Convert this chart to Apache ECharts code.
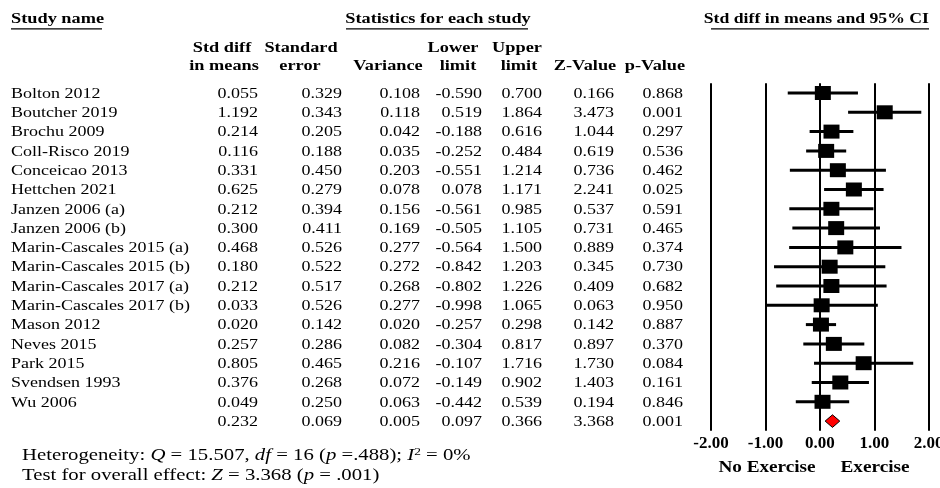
<!DOCTYPE html>
<html><head><meta charset="utf-8">
<script src="https://cdn.jsdelivr.net/npm/echarts@6/dist/echarts.min.js"></script>
<style>html,body{margin:0;padding:0;background:#fff}#c{width:940px;height:488px}</style>
</head><body><div id="c"></div>
<script>
// ---- data ----
const studies = ['Bolton 2012','Boutcher 2019','Brochu 2009','Coll-Risco 2019','Conceicao 2013','Hettchen 2021','Janzen 2006 (a)','Janzen 2006 (b)','Marin-Cascales 2015 (a)','Marin-Cascales 2015 (b)','Marin-Cascales 2017 (a)','Marin-Cascales 2017 (b)','Mason 2012','Neves 2015','Park 2015','Svendsen 1993','Wu 2006'];
const stdDiff  = [0.055,1.192,0.214,0.116,0.331,0.625,0.212,0.300,0.468,0.180,0.212,0.033,0.020,0.257,0.805,0.376,0.049];
const stdErr   = [0.329,0.343,0.205,0.188,0.450,0.279,0.394,0.411,0.526,0.522,0.517,0.526,0.142,0.286,0.465,0.268,0.250];
const variance = [0.108,0.118,0.042,0.035,0.203,0.078,0.156,0.169,0.277,0.272,0.268,0.277,0.020,0.082,0.216,0.072,0.063];
const lower    = [-0.590,0.519,-0.188,-0.252,-0.551,0.078,-0.561,-0.505,-0.564,-0.842,-0.802,-0.998,-0.257,-0.304,-0.107,-0.149,-0.442];
const upper    = [0.700,1.864,0.616,0.484,1.214,1.171,0.985,1.105,1.500,1.203,1.226,1.065,0.298,0.817,1.716,0.902,0.539];
const zValue   = [0.166,3.473,1.044,0.619,0.736,2.241,0.537,0.731,0.889,0.345,0.409,0.063,0.142,0.897,1.730,1.403,0.194];
const pValue   = [0.868,0.001,0.297,0.536,0.462,0.025,0.591,0.465,0.374,0.730,0.682,0.950,0.887,0.370,0.084,0.161,0.846];
// pooled row: std diff, se, variance, lower, upper, z, p
const pooledRow = [0.232,0.069,0.005,0.097,0.366,3.368,0.001];
const headerLine1 = ['Std diff','Standard','','Lower','Upper','',''];
const headerLine2 = ['in means','error','Variance','limit','limit','Z-Value','p-Value'];
const axisMin = -2, axisMax = 2, axisStep = 1;
const dirLabels = ['No Exercise','Exercise'];
const heterogeneityText = 'Heterogeneity: {i|Q} = 15.507, {i|df} = 16 ({i|p} =.488); {i|I}{sup|2} = 0%';
const overallText = 'Test for overall effect: {i|Z} = 3.368 ({i|p} = .001)';

// ---- layout ----
const SERIF = '"Liberation Serif","Times New Roman",serif';
const SX = 1.2;
const colRight = [258,342,420,482,542,614,683];
const head1X = [222,301,388,453,517,585,655];
const head2X = [224,300,388,458,519,585,655];
const nameX = 11;
const gridTop = 83.35, gridBottom = 57.25;
const rowMin = -0.5, rowMax = 17.5;

const columns = [stdDiff, stdErr, variance, lower, upper, zValue, pValue];
const cells = [];
studies.forEach((s, i) => {
  cells.push({v:[nameX, i], text:s, align:'left'});
  columns.forEach((col, c) => cells.push({v:[colRight[c], i], text:col[i].toFixed(3), align:'right'}));
});
const pooledIdx = studies.length;
pooledRow.forEach((val, c) => cells.push({v:[colRight[c], pooledIdx], text:val.toFixed(3), align:'right'}));

const chart = echarts.init(document.getElementById('c'), null, {renderer:'canvas'});

function txt(x, y, text, o) {
  o = o || {};
  return {type:'text', x:x, y:y, scaleX:o.sx || SX, silent:true,
    style:{text:text, x:0, y:0, fill:'#000',
      fontFamily:SERIF, fontSize:o.size || 15, fontWeight:o.weight || 'normal',
      textAlign:o.align || 'left', align:o.align || 'left',
      textVerticalAlign:'middle', verticalAlign:'middle', rich:o.rich}};
}
function uline(x1, x2, y) {
  return {type:'line', silent:true, shape:{x1:x1, y1:y, x2:x2, y2:y}, style:{stroke:'#000', lineWidth:1.3}};
}
const graphics = [
  txt(nameX, 19.5, 'Study name', {weight:'bold', sx:1.22}),
  uline(11, 102, 28.8),
  txt(438, 19.5, 'Statistics for each study', {weight:'bold', align:'center', sx:1.22}),
  uline(346, 528, 28.8),
  txt(929, 19.5, 'Std diff in means and 95% CI', {weight:'bold', align:'right', sx:1.18}),
  uline(711, 929, 28.8)
];
headerLine1.forEach((h, c) => { if (h) graphics.push(txt(head1X[c], 48, h, {weight:'bold', align:'center', sx:1.22})); });
headerLine2.forEach((h, c) => { if (h) graphics.push(txt(head2X[c], 66.5, h, {weight:'bold', align:'center', sx:1.22})); });
graphics.push(txt(767, 468, dirLabels[0], {weight:'bold', align:'center', size:16}));
graphics.push(txt(875, 468, dirLabels[1], {weight:'bold', align:'center', size:16}));
const richNote = {
  i:{fontStyle:'italic', fontFamily:SERIF, fontSize:17, fill:'#000'},
  sup:{fontFamily:SERIF, fontSize:11, fill:'#000', verticalAlign:'top'}
};
graphics.push(txt(22, 455.5, heterogeneityText, {size:17, rich:richNote, sx:1.22}));
graphics.push(txt(22, 476, overallText, {size:17, rich:richNote, sx:1.22}));

const option = {
  animation:false,
  backgroundColor:'#fff',
  grid:[
    {left:0, right:0, top:gridTop, bottom:gridBottom, outerBoundsMode:'none'},
    {left:711, right:11.3, top:gridTop, bottom:gridBottom, outerBoundsMode:'none'}
  ],
  xAxis:[
    {gridIndex:0, type:'value', min:0, max:940, show:false},
    {gridIndex:1, type:'value', min:axisMin, max:axisMax, interval:axisStep,
      axisLine:{show:false}, axisTick:{show:false},
      splitLine:{show:true, lineStyle:{color:'#000', width:2}},
      axisLabel:{margin:4, color:'#000', fontFamily:SERIF, fontWeight:'bold', fontSize:17,
        formatter:v => v.toFixed(2)}}
  ],
  yAxis:[
    {gridIndex:0, type:'value', min:rowMin, max:rowMax, inverse:true, show:false},
    {gridIndex:1, type:'value', min:rowMin, max:rowMax, inverse:true, show:false}
  ],
  graphic:graphics,
  series:[
    {
      type:'custom', name:'table', xAxisIndex:0, yAxisIndex:0, clip:false,
      data:cells.map(c => c.v),
      renderItem:function(params, api){
        const p = api.coord([api.value(0), api.value(1)]);
        const cell = cells[params.dataIndex];
        return {type:'text', x:p[0], y:p[1] + 0.8, scaleX:SX,
          style:{text:cell.text, x:0, y:0, fill:'#000', fontFamily:SERIF, fontSize:15,
            textAlign:cell.align, align:cell.align, textVerticalAlign:'middle', verticalAlign:'middle'}};
      }
    },
    {
      type:'custom', name:'ci', xAxisIndex:1, yAxisIndex:1, clip:false,
      data:studies.map((s, i) => [lower[i], upper[i], i]),
      renderItem:function(params, api){
        const a = api.coord([api.value(0), api.value(2)]);
        const b = api.coord([api.value(1), api.value(2)]);
        return {type:'line', shape:{x1:a[0], y1:a[1], x2:b[0], y2:b[1]}, style:{stroke:'#000', lineWidth:3}};
      }
    },
    {
      type:'scatter', name:'effect', xAxisIndex:1, yAxisIndex:1,
      data:studies.map((s, i) => [stdDiff[i], i]),
      symbol:'rect', symbolSize:[16,14], itemStyle:{color:'#000', opacity:1}
    },
    {
      type:'custom', name:'pooled', xAxisIndex:1, yAxisIndex:1, clip:false,
      data:[[pooledRow[0], pooledRow[3], pooledRow[4], pooledIdx]],
      renderItem:function(params, api){
        const m = api.coord([api.value(0), api.value(3)]);
        const lo = api.coord([api.value(1), api.value(3)]);
        const hi = api.coord([api.value(2), api.value(3)]);
        const h = 6.3;
        return {type:'polygon', shape:{points:[[lo[0], m[1]], [m[0], m[1]-h], [hi[0], m[1]], [m[0], m[1]+h]]},
          style:{fill:'#ff0000', stroke:'#000', lineWidth:1}};
      }
    }
  ]
};
chart.setOption(option);
</script></body></html>
